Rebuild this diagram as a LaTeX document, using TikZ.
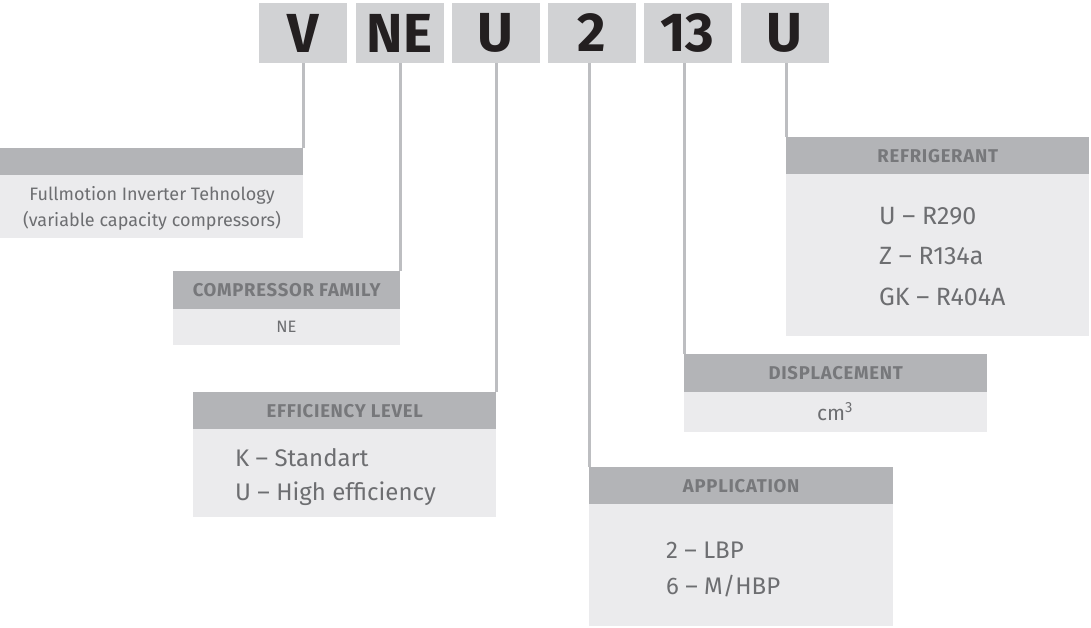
\documentclass[tikz,border=0pt]{standalone}
\usepackage{fontspec}
\setmainfont{Fira Sans}
\newfontfamily\headfont[LetterSpace=4.0]{Fira Sans}
\usetikzlibrary{positioning}
\definecolor{codefill}{HTML}{D1D2D4}
\definecolor{barfill}{HTML}{B3B4B7}
\definecolor{panelfill}{HTML}{EBEBED}
\definecolor{leader}{HTML}{BDBEC1}
\definecolor{headtext}{HTML}{77787B}
\definecolor{bodytext}{HTML}{6D6E71}
\definecolor{codetext}{HTML}{231F20}
\tikzset{
    codebox/.style={
        rectangle,
        fill=codefill,
        minimum width=88pt,
        minimum height=60pt,
        inner sep=0pt,
        text=codetext,
        font=\fontsize{55}{55}\selectfont\bfseries
    },
    headbar/.style={
        rectangle,
        fill=barfill,
        anchor=north west,
        inner sep=0pt,
        text=headtext,
        font=\fontsize{18.5}{18.5}\selectfont\headfont\bfseries
    },
    panelbody/.style={
        rectangle,
        fill=panelfill,
        anchor=north west,
        inner sep=0pt
    },
    bodyline/.style={
        anchor=base west,
        inner sep=0pt,
        text=bodytext,
        font=\fontsize{24}{24}\selectfont
    },
    smallline/.style={
        anchor=base,
        inner sep=0pt,
        text=bodytext,
        font=\fontsize{18}{18}\selectfont
    },
    leaderline/.style={
        draw=leader,
        line width=3pt
    }
}

\begin{document}
\begin{tikzpicture}[x=1pt, y=-1pt]
    \useasboundingbox (0,0) rectangle (1091,627);

    % code letters
    \node[codebox] (cV)   at (303,33)   {V};
    \node[codebox] (cNE)  at (399.5,33) {NE};
    \node[codebox] (cEff) at (495.5,33) {U};
    \node[codebox] (cApp) at (591.5,33) {2};
    \node[codebox] (cDisp) at (687.5,33) {13};
    \node[codebox] (cRef) at (784.5,33) {U};

    % panels
    \node[headbar, minimum width=303pt, minimum height=27pt] (fmHead) at (0,148) {};
    \node[panelbody, minimum width=303pt, minimum height=63pt] (fmBody) at (0,175) {};
    \node[smallline] (fmL1) at (152,200) {Fullmotion Inverter Tehnology};
    \node[smallline] (fmL2) at (152,226) {(variable capacity compressors)};

    \node[headbar, minimum width=227pt, minimum height=38pt] (cfHead) at (173,271) {COMPRESSOR FAMILY};
    \node[panelbody, minimum width=227pt, minimum height=36pt] (cfBody) at (173,309) {};
    \node[smallline, font=\fontsize{16.5}{16.5}\selectfont] (cfL1) at (286.5,332) {NE};

    \node[headbar, minimum width=303pt, minimum height=37pt] (effHead) at (193,392) {EFFICIENCY LEVEL};
    \node[panelbody, minimum width=303pt, minimum height=88pt] (effBody) at (193,429) {};
    \node[bodyline] (effL1) at (235,466) {K – Standart};
    \node[bodyline] (effL2) at (235,500) {U – High efficiency};

    \node[headbar, minimum width=304pt, minimum height=37pt] (appHead) at (589,467) {APPLICATION};
    \node[panelbody, minimum width=304pt, minimum height=122pt] (appBody) at (589,504) {};
    \node[bodyline] (appL1) at (666,558) {2 – LBP};
    \node[bodyline] (appL2) at (666,594) {6 – M/HBP};

    \node[headbar, minimum width=303pt, minimum height=38pt] (dispHead) at (684,354) {DISPLACEMENT};
    \node[panelbody, minimum width=303pt, minimum height=40pt] (dispBody) at (684,392) {};
    \node[smallline, font=\fontsize{21}{21}\selectfont] (dispL1) at (835,420) {cm\textsuperscript{3}};

    \node[headbar, minimum width=303pt, minimum height=37pt] (refHead) at (786,137) {REFRIGERANT};
    \node[panelbody, minimum width=303pt, minimum height=162pt] (refBody) at (786,174) {};
    \node[bodyline, font=\fontsize{25}{25}\selectfont] (refL1) at (879,224) {U – R290};
    \node[bodyline, font=\fontsize{25}{25}\selectfont] (refL2) at (879,264) {Z – R134a};
    \node[bodyline, font=\fontsize{25}{25}\selectfont] (refL3) at (879,305) {GK – R404A};

    % leaders
    \draw[leaderline] (cV.south -| fmHead.north east) -- (fmHead.north east);
    \draw[leaderline] (cNE.south -| cfHead.north east) -- (cfHead.north east);
    \draw[leaderline] (cEff.south -| effHead.north east) -- (effHead.north east);
    \draw[leaderline] (cApp.south -| appHead.north west) -- (appHead.north west);
    \draw[leaderline] (cDisp.south -| dispHead.north west) -- (dispHead.north west);
    \draw[leaderline] (cRef.south -| refHead.north west) -- (refHead.north west);
\end{tikzpicture}
\end{document}
